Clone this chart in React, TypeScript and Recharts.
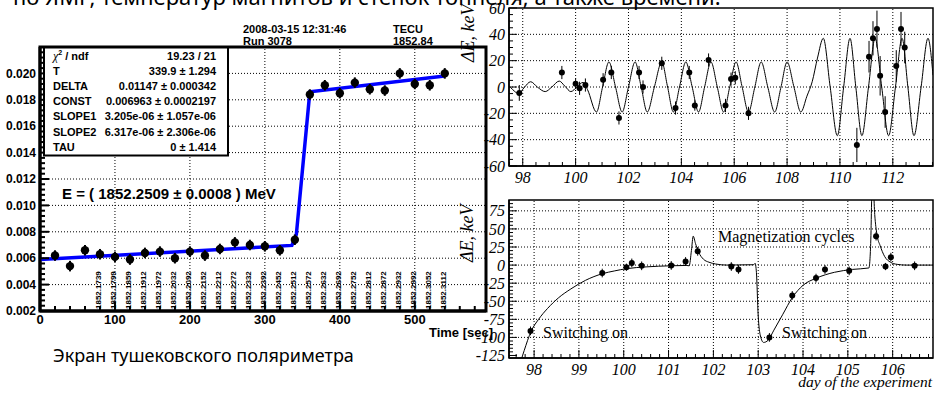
import React from 'react';
import {
  ComposedChart,
  Line,
  Scatter,
  XAxis,
  YAxis,
  ReferenceLine,
  ReferenceArea,
  ErrorBar,
} from 'recharts';

// ---------- Tushkevich polarimeter scan (left panel) ----------
const scanTimes = [20, 40, 60, 80, 100, 120, 140, 160, 180, 200, 220, 240, 260, 280, 300, 320, 340, 360, 380, 400, 420, 440, 460, 480, 500, 520, 540];
const scanAsym = [0.0062, 0.0054, 0.0066, 0.0063, 0.0061, 0.0059, 0.0064, 0.0065, 0.006, 0.0065, 0.0062, 0.0067, 0.0072, 0.007, 0.0069, 0.0066, 0.0074, 0.0184, 0.0191, 0.0185, 0.0193, 0.0188, 0.0187, 0.02, 0.0192, 0.0191, 0.02];
const scanErr = [0.0004, 0.0004, 0.0004, 0.0004, 0.0004, 0.0004, 0.0004, 0.0004, 0.0004, 0.0004, 0.0004, 0.0004, 0.0004, 0.0004, 0.0004, 0.0004, 0.0004, 0.0004, 0.0004, 0.0004, 0.0004, 0.0004, 0.0004, 0.0004, 0.0004, 0.0004, 0.0004];
const fitTimes = [0, 336, 342, 360, 540];
const fitAsym = [0.0059, 0.00697, 0.0078, 0.0186, 0.0198];
const energyTimes = [80, 100, 120, 140, 160, 180, 200, 220, 240, 260, 280, 300, 320, 340, 360, 380, 400, 420, 440, 460, 480, 500, 520, 540];
const energyLabels = ['1852.1739', '1852.1799', '1852.1859', '1852.1912', '1852.1972', '1852.2032', '1852.2092', '1852.2152', '1852.2212', '1852.2272', '1852.2332', '1852.2392', '1852.2452', '1852.2512', '1852.2572', '1852.2632', '1852.2692', '1852.2752', '1852.2812', '1852.2872', '1852.2932', '1852.2992', '1852.3052', '1852.3112'];
const scanXTicks = [0, 100, 200, 300, 400, 500];
const scanYTicks = [0.002, 0.004, 0.006, 0.008, 0.01, 0.012, 0.014, 0.016, 0.018, 0.02];
const fitStats: [string, string][] = [
  ['T', '339.9 \u00b1 1.294'],
  ['DELTA', '0.01147 \u00b1 0.000342'],
  ['CONST', '0.006963 \u00b1 0.0002197'],
  ['SLOPE1', '3.205e-06 \u00b1 1.057e-06'],
  ['SLOPE2', '6.317e-06 \u00b1 2.306e-06'],
  ['TAU', '0 \u00b1 1.414'],
];

// ---------- Energy deviation, top right ----------
const devDays = [97.87, 99.48, 100.0, 100.15, 100.37, 101.04, 101.35, 101.64, 102.4, 102.55, 103.26, 103.78, 104.3, 104.51, 105.03, 105.67, 105.88, 106.04, 106.54, 110.64, 111.1, 111.25, 111.4, 111.52, 111.71, 112.13, 112.31, 112.45];
const devKeV = [-4.5, 11, 2.5, -1, 1.5, 5.5, 11, -23.5, 11, 0, 18, -16, 11, -14, 20.5, -14, 6, 7, -20, -44, 23, 37, 44, 8.5, -19, 16, 44, 30];
const devErr = [6, 5, 4, 5, 5, 5, 5, 5, 5, 5, 5, 5, 5, 4, 5, 5, 5, 5, 5, 13, 12, 13, 14, 15, 12, 12, 13, 12];
const oscCurve: [number, number][] = [
  [97.48, 1], [97.62, -2], [97.85, -5], [98.05, -0.5], [98.3, 4], [98.55, 0], [98.85, -3.5], [99.1, 0], [99.38, 4.5],
  [99.6, 0.5], [99.82, -3.5], [100.05, 0], [100.28, 3.5], [100.45, -2],
  [100.79, -19], [101.02, 0], [101.26, 19], [101.51, 0], [101.76, -19], [102.0, 0], [102.25, 19], [102.48, 0],
  [102.71, -19], [102.98, 0], [103.26, 19], [103.48, 0], [103.7, -19], [103.93, 0], [104.17, 19], [104.41, 0],
  [104.65, -19], [104.88, 0], [105.12, 19], [105.36, 0], [105.6, -19], [105.83, 0], [106.07, 19], [106.3, 0],
  [106.54, -19], [106.78, 0], [107.02, 19], [107.27, 0], [107.53, -19], [107.77, 0], [108.0, 19], [108.26, 0],
  [108.52, -19], [108.75, -7], [108.95, 4], [109.15, 22], [109.37, 37], [109.63, 0], [109.9, -37], [110.14, 0],
  [110.38, 37], [110.6, 0], [110.83, -37], [111.08, 0], [111.33, 37], [111.58, 0], [111.84, -37], [112.1, 0],
  [112.35, 37], [112.57, 0], [112.8, -37], [113.07, 0], [113.33, 37], [113.52, 9],
];
const devXTicks = [98, 100, 102, 104, 106, 108, 110, 112];
const devYTicks = [-60, -40, -20, 0, 20, 40, 60];

// ---------- Energy shift after magnet cycles, bottom right ----------
const cycDays = [97.92, 99.52, 100.06, 100.18, 100.4, 101.06, 101.38, 101.65, 102.4, 102.56, 103.25, 103.76, 104.29, 104.49, 105.03, 105.63, 105.84, 105.96, 106.49];
const cycKeV = [-91, -11, -3, 3, -1, -0.5, 5, 19, -2, -6, -100, -42, -18, -6, -8, 40, -2, 11, -1];
const cycErr = [6, 6, 5, 6, 6, 6, 6, 6, 6, 6, 6, 6, 6, 6, 6, 6, 5, 6, 6];
const cycCurve: [number, number][] = [
  [97.62, -150], [97.78, -118], [97.93, -92], [98.1, -75], [98.3, -60], [98.55, -45], [98.82, -33], [99.15, -21],
  [99.52, -12], [99.8, -8], [100.06, -5], [100.5, -2.5], [101.04, -1], [101.4, -0.5], [101.46, -1], [101.51, 20],
  [101.55, 40], [101.6, 30], [101.67, 18], [101.78, 8], [101.9, 4], [102.05, 1.5], [102.3, 0], [102.9, 0.5],
  [102.93, 2.5], [102.96, -10], [103.0, -70], [103.05, -98], [103.12, -107], [103.22, -104], [103.35, -90],
  [103.55, -68], [103.76, -45], [104.0, -28], [104.3, -18], [104.7, -10], [105.1, -6], [105.47, -4],
  [105.51, 30], [105.55, 130], [105.6, 70], [105.65, 42], [105.72, 27], [105.82, 12], [105.95, 4], [106.1, 1],
  [106.3, 0], [106.9, 0],
];
const cycXTicks = [98, 99, 100, 101, 102, 103, 104, 105, 106];
const cycYTicks = [-125, -100, -75, -50, -25, 0, 25, 50, 75];

// ---------- helpers ----------
const SANS = '"Liberation Sans", Arial, Helvetica, sans-serif';
const SERIF = '"Liberation Serif", "Times New Roman", serif';
const CAPTION = '"Noto Sans", "Open Sans", sans-serif';

function steps(from: number, to: number, step: number): number[] {
  const n = Math.round((to - from) / step);
  const out: number[] = [];
  for (let i = 0; i <= n; i++) out.push(Math.round((from + i * step) * 1e6) / 1e6);
  return out;
}
const has = (arr: number[], v: number) => arr.some((m) => Math.abs(m - v) < 1e-6);

type TickStyle = {
  major: number[];
  majorLen: number;
  minorLen: number;
  width: number;
  font: string;
  size: number;
  weight: string | number;
  italic?: boolean;
  fmt: (v: number) => string;
  offset: number;
};

// ticks pointing into the frame, labels only on majors
const bottomTick = (s: TickStyle) => (props: any) => {
  const { x, y, payload } = props;
  const v = payload.value;
  const isMajor = has(s.major, v);
  return (
    <g>
      <line x1={x} y1={y} x2={x} y2={y - (isMajor ? s.majorLen : s.minorLen)} stroke="#000" strokeWidth={s.width} />
      {isMajor && (
        <text
          x={x}
          y={y + s.offset}
          textAnchor="middle"
          fontFamily={s.font}
          fontSize={s.size}
          fontWeight={s.weight}
          fontStyle={s.italic ? 'italic' : 'normal'}
          fill="#000"
        >
          {s.fmt(v)}
        </text>
      )}
    </g>
  );
};

const leftTick = (s: TickStyle) => (props: any) => {
  const { x, y, payload } = props;
  const v = payload.value;
  const isMajor = has(s.major, v);
  return (
    <g>
      <line x1={x} y1={y} x2={x + (isMajor ? s.majorLen : s.minorLen)} y2={y} stroke="#000" strokeWidth={s.width} />
      {isMajor && (
        <text
          x={x - s.offset}
          y={y + s.size * 0.35}
          textAnchor="end"
          fontFamily={s.font}
          fontSize={s.size}
          fontWeight={s.weight}
          fontStyle={s.italic ? 'italic' : 'normal'}
          fill="#000"
        >
          {s.fmt(v)}
        </text>
      )}
    </g>
  );
};

const dot = (r: number) => (p: any) => <circle cx={p.cx} cy={p.cy} r={r} fill="#000" />;

const energyLabel = (p: any) => (
  <text
    transform={`translate(${p.cx + 1.5},${p.cy - 2}) rotate(-90)`}
    fontFamily={SANS}
    fontSize={8}
    fontWeight="bold"
    fill="#000"
  >
    {p.payload.t}
  </text>
);

const dotted = { stroke: '#000', strokeDasharray: '1 2', strokeWidth: 1 };

// ---------- panels ----------
function ScanPanel() {
  const pts = scanTimes.map((t, i) => ({ x: t, y: scanAsym[i], e: scanErr[i] }));
  const fit = fitTimes.map((t, i) => ({ x: t, y: fitAsym[i] }));
  const labels = energyTimes.map((t, i) => ({ x: t, y: 0.002, t: energyLabels[i] }));
  const xs: TickStyle = { major: scanXTicks, majorLen: 9, minorLen: 5, width: 2, font: SANS, size: 13, weight: 'bold', fmt: (v) => String(v), offset: 13 };
  const ys: TickStyle = { major: scanYTicks, majorLen: 9, minorLen: 5, width: 2, font: SANS, size: 12, weight: 'bold', fmt: (v) => v.toFixed(3), offset: 4 };
  return (
    <ComposedChart width={500} height={393} margin={{ top: 47, right: 14, bottom: 52, left: 0 }}>
      <XAxis
        type="number"
        dataKey="x"
        domain={[0, 595]}
        allowDataOverflow
        ticks={steps(0, 580, 20)}
        interval={0}
        tickSize={0}
        tickMargin={0}
        tickLine={false}
        tick={bottomTick(xs)}
        height={30}
        axisLine={{ stroke: '#000', strokeWidth: 3 }}
      />
      <YAxis
        type="number"
        dataKey="y"
        domain={[0.002, 0.022]}
        allowDataOverflow
        ticks={steps(0.002, 0.022, 0.0004)}
        interval={0}
        tickSize={0}
        tickMargin={0}
        tickLine={false}
        tick={leftTick(ys)}
        width={40}
        axisLine={{ stroke: '#000', strokeWidth: 3 }}
      />
      {scanXTicks.slice(1).map((v) => (
        <ReferenceLine key={'gx' + v} x={v} {...dotted} />
      ))}
      {scanYTicks.slice(1).map((v) => (
        <ReferenceLine key={'gy' + v} y={v} {...dotted} />
      ))}
      <ReferenceArea x1={0} x2={595} y1={0.002} y2={0.022} fill="none" stroke="#000" strokeWidth={3} />
      <Scatter data={labels} shape={energyLabel} isAnimationActive={false} />
      <Line data={fit} dataKey="y" type="linear" stroke="#0000ff" strokeWidth={3.5} dot={false} isAnimationActive={false} />
      <Scatter data={pts} shape={dot(4.2)} isAnimationActive={false}>
        <ErrorBar dataKey="e" direction="y" width={0} stroke="#000" strokeWidth={2} />
      </Scatter>
    </ComposedChart>
  );
}

function DeviationPanel() {
  const pts = devDays.map((d, i) => ({ x: d, y: devKeV[i], e: devErr[i] }));
  const curve = oscCurve.map(([d, v]) => ({ x: d, y: v }));
  const xs: TickStyle = { major: devXTicks, majorLen: 8, minorLen: 4, width: 1, font: SERIF, size: 16, weight: 'normal', italic: true, fmt: (v) => String(v), offset: 17 };
  const ys: TickStyle = { major: devYTicks, majorLen: 8, minorLen: 4, width: 1, font: SERIF, size: 16, weight: 'normal', italic: true, fmt: (v) => String(v), offset: 4 };
  return (
    <ComposedChart width={464} height={200} margin={{ top: 8, right: 1, bottom: 9, left: 0 }}>
      <XAxis
        type="number"
        dataKey="x"
        domain={[97.48, 113.52]}
        allowDataOverflow
        ticks={steps(97.5, 113.5, 0.5)}
        interval={0}
        tickSize={0}
        tickMargin={0}
        tickLine={false}
        tick={bottomTick(xs)}
        height={25}
        axisLine={{ stroke: '#000', strokeWidth: 1.5 }}
      />
      <YAxis
        type="number"
        dataKey="y"
        domain={[-60, 60]}
        allowDataOverflow
        ticks={steps(-60, 60, 5)}
        interval={0}
        tickSize={0}
        tickMargin={0}
        tickLine={false}
        tick={leftTick(ys)}
        width={39}
        axisLine={{ stroke: '#000', strokeWidth: 1.5 }}
      />
      {devXTicks.map((v) => (
        <ReferenceLine key={'gx' + v} x={v} {...dotted} />
      ))}
      {devYTicks.slice(1, -1).map((v) => (
        <ReferenceLine key={'gy' + v} y={v} {...dotted} />
      ))}
      <ReferenceArea x1={97.48} x2={113.52} y1={-60} y2={60} fill="none" stroke="#000" strokeWidth={1.5} />
      <Line data={curve} dataKey="y" type="monotone" stroke="#000" strokeWidth={1} dot={false} isAnimationActive={false} />
      <Scatter data={pts} shape={dot(3)} isAnimationActive={false}>
        <ErrorBar dataKey="e" direction="y" width={0} stroke="#000" strokeWidth={1} />
      </Scatter>
    </ComposedChart>
  );
}

function CyclesPanel() {
  const pts = cycDays.map((d, i) => ({ x: d, y: cycKeV[i], e: cycErr[i] }));
  const curve = cycCurve.map(([d, v]) => ({ x: d, y: v }));
  const xs: TickStyle = { major: cycXTicks, majorLen: 8, minorLen: 4, width: 1, font: SERIF, size: 16, weight: 'normal', italic: true, fmt: (v) => String(v), offset: 17 };
  const ys: TickStyle = { major: cycYTicks, majorLen: 8, minorLen: 4, width: 1, font: SERIF, size: 16, weight: 'normal', italic: true, fmt: (v) => String(v), offset: 4 };
  return (
    <ComposedChart width={464} height={203} margin={{ top: 10, right: 1, bottom: 10, left: 0 }}>
      <XAxis
        type="number"
        dataKey="x"
        domain={[97.44, 106.9]}
        allowDataOverflow
        ticks={steps(97.6, 106.8, 0.2)}
        interval={0}
        tickSize={0}
        tickMargin={0}
        tickLine={false}
        tick={bottomTick(xs)}
        height={25}
        axisLine={{ stroke: '#000', strokeWidth: 1.5 }}
      />
      <YAxis
        type="number"
        dataKey="y"
        domain={[-128.5, 90]}
        allowDataOverflow
        ticks={steps(-125, 85, 5)}
        interval={0}
        tickSize={0}
        tickMargin={0}
        tickLine={false}
        tick={leftTick(ys)}
        width={39}
        axisLine={{ stroke: '#000', strokeWidth: 1.5 }}
      />
      {cycXTicks.map((v) => (
        <ReferenceLine key={'gx' + v} x={v} {...dotted} />
      ))}
      {cycYTicks.slice(1).map((v) => (
        <ReferenceLine key={'gy' + v} y={v} {...dotted} />
      ))}
      <ReferenceArea x1={97.44} x2={106.9} y1={-128.5} y2={90} fill="none" stroke="#000" strokeWidth={1.5} />
      <Line data={curve} dataKey="y" type="monotone" stroke="#000" strokeWidth={1} dot={false} isAnimationActive={false} />
      <Scatter data={pts} shape={dot(3)} isAnimationActive={false}>
        <ErrorBar dataKey="e" direction="y" width={0} stroke="#000" strokeWidth={1} />
      </Scatter>
    </ComposedChart>
  );
}

export default function App() {
  return (
    <div style={{ position: 'fixed', left: 0, top: 0, width: 934, height: 393, background: '#fff', overflow: 'hidden' }}>
      <div style={{ position: 'absolute', left: 0, top: 0 }}>
        <ScanPanel />
      </div>
      <div style={{ position: 'absolute', left: 470, top: 0 }}>
        <DeviationPanel />
      </div>
      <div style={{ position: 'absolute', left: 470, top: 190 }}>
        <CyclesPanel />
      </div>
      <svg width={934} height={393} style={{ position: 'absolute', left: 0, top: 0, pointerEvents: 'none' }}>
        <text x={13} y={5} fontFamily={CAPTION} fontSize={22} fill="#000">
          по ЯМР, температур магнитов и стенок тоннеля, а также времени.
        </text>

        <g fontFamily={SANS} fontWeight="bold" fontSize={11} fill="#000">
          <text x={243} y={33}>2008-03-15 12:31:46</text>
          <text x={243} y={45}>Run 3078</text>
          <text x={393} y={33}>TECU</text>
          <text x={393} y={45}>1852.84</text>
        </g>

        <rect x={44} y={47.5} width={184} height={108} fill="#fff" stroke="#000" strokeWidth={2} />
        <g fontFamily={SANS} fontWeight="bold" fontSize={11} fill="#000">
          <text x={53} y={59.5}>
            <tspan fontWeight="normal" fontFamily={SERIF} fontStyle="italic" fontSize={12}>χ</tspan>
            <tspan fontSize={7} dy={-5}>2</tspan>
            <tspan dy={5}> / ndf</tspan>
          </text>
          <text x={216} y={59.5} textAnchor="end">19.23 / 21</text>
          {fitStats.map(([k, v], i) => (
            <g key={k}>
              <text x={53} y={74.7 + i * 15.2}>{k}</text>
              <text x={216} y={74.7 + i * 15.2} textAnchor="end">{v}</text>
            </g>
          ))}
        </g>

        <text x={62} y={199} fontFamily={SANS} fontWeight="bold" fontSize={15} fill="#000">
          E = ( 1852.2509 ± 0.0008 ) MeV
        </text>
        <text x={493} y={337} textAnchor="end" fontFamily={SANS} fontWeight="bold" fontSize={13} fill="#000">
          Time [sec]
        </text>

        <text x={53} y={361.5} fontFamily={CAPTION} fontSize={18} fill="#000">
          Экран тушековского поляриметра
        </text>

        <g fontFamily={SERIF} fontStyle="italic" fontSize={18} fill="#000">
          <text transform="translate(474,62) rotate(-90)">ΔE, keV</text>
          <text transform="translate(473,262) rotate(-90)">ΔE, keV</text>
        </g>

        <g fontFamily={SERIF} fontSize={16} fill="#000">
          <text x={718} y={242}>Magnetization cycles</text>
          <text x={543} y={338}>Switching on</text>
          <text x={782} y={338}>Switching on</text>
        </g>
        <text x={932} y={387} textAnchor="end" fontFamily={SERIF} fontStyle="italic" fontSize={15.5} fill="#000">
          day of the experiment
        </text>
      </svg>
    </div>
  );
}
